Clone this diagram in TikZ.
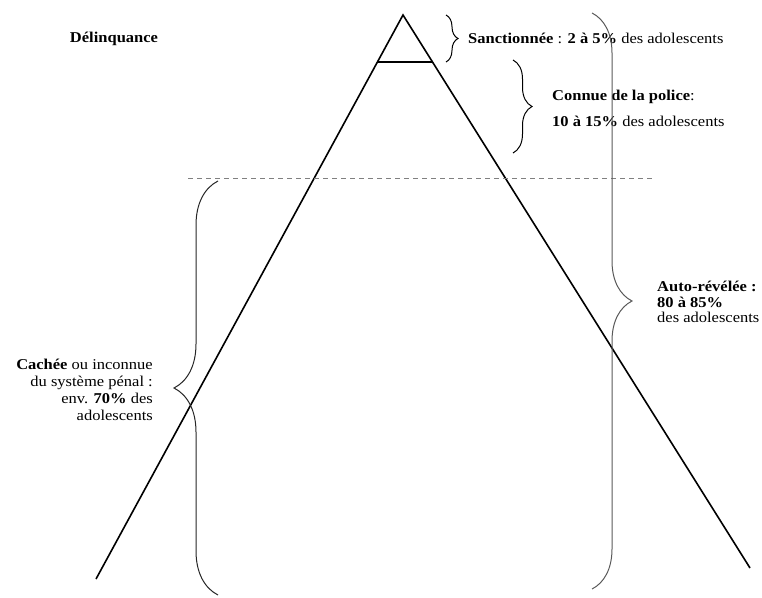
\documentclass[tikz,border=0pt]{standalone}
\usepackage{fontspec}
\setmainfont[FakeStretch=1.1]{Liberation Serif}
\usetikzlibrary{calc,decorations.pathreplacing}

\begin{document}
\begin{tikzpicture}[
  x=1pt,y=-1pt,
  side/.style={line width=1.6pt,black},
  lbl/.style={font=\fontsize{15}{17}\selectfont,inner sep=0pt},
  curly/.style={decorate,decoration={brace,amplitude=#1},line width=1pt},
  guide/.style={dashed,dash pattern=on 5pt off 4pt,line width=0.8pt,gray}
]
\useasboundingbox (0,0) rectangle (762,597);
% pyramid
\coordinate (apex) at (403,15);
\coordinate (baseL) at (96,579);
\coordinate (baseR) at (750,568);
\draw[side] (baseL) -- (apex) -- (baseR);
\coordinate (capL) at ($(apex)!0.0833!(baseL)$);
\coordinate (capR) at ($(apex)!0.085!(baseR)$);
\draw[side] (capL) -- (capR);
\coordinate (dashL) at (188,178);
\coordinate (dashR) at (652,178);
\draw[guide] (dashL) -- (dashR);

\node[lbl,font=\fontsize{15}{17}\selectfont\bfseries] (title) at (114,39) {Délinquance};

% braces
\coordinate (sancT) at (446,15);
\coordinate (sancB) at (446,62);
\draw[curly=12] (sancT) -- (sancB);
\node[lbl,anchor=west] (sanc) at (468,38) {\textbf{Sanctionnée} : \textbf{2 à 5\%} des adolescents};

\coordinate (polT) at (513,60);
\coordinate (polB) at (513,153);
\draw[curly=19] (polT) -- (polB);
\node[lbl,anchor=west,align=left] (pol) at (552,108) {\textbf{Connue de la police}:\\[9pt]\textbf{10 à 15\%} des adolescents};

\coordinate (autoT) at (592,13);
\coordinate (autoB) at (592,589);
\draw[curly=40,gray!70!black] (autoT) -- (autoB);
\node[lbl,anchor=west,align=left,font=\fontsize{15}{15.5}\selectfont] (auto) at (657,302) {\textbf{Auto-révélée :}\\\textbf{80 à 85\%}\\des adolescents};

\coordinate (cacheB) at (218,595);
\coordinate (cacheT) at (218,181);
\draw[curly=44,black!85] (cacheB) -- (cacheT);
\node[lbl,anchor=east,align=right] (cache) at (153,390) {\textbf{Cachée} ou inconnue\\du système pénal :\\env. \textbf{70\%} des\\adolescents};
\end{tikzpicture}
\end{document}
